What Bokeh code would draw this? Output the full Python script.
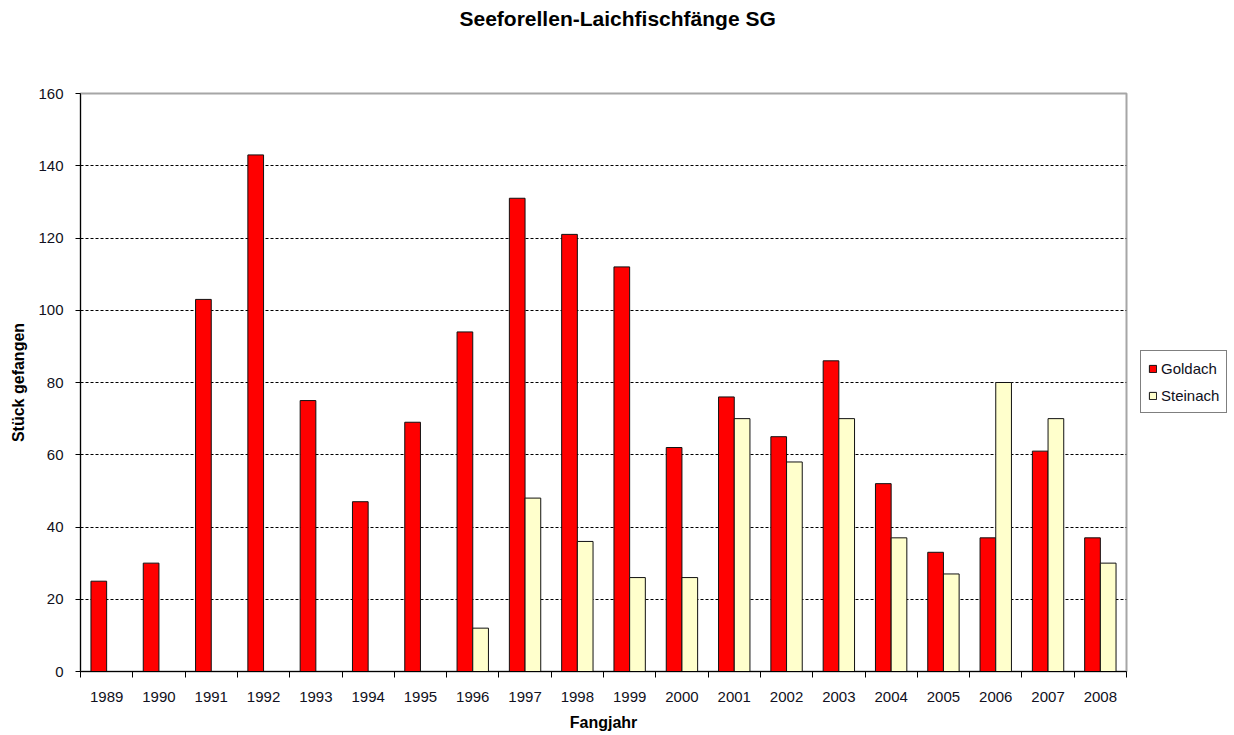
from bokeh.plotting import figure
from bokeh.layouts import row
from bokeh.models import (ColumnDataSource, FixedTicker, Legend, LegendItem, Title, Range1d)
from bokeh.transform import dodge
from bokeh.embed import file_html
from bokeh.resources import INLINE
import numpy as np

years = ["1989", "1990", "1991", "1992", "1993", "1994", "1995", "1996", "1997", "1998",
         "1999", "2000", "2001", "2002", "2003", "2004", "2005", "2006", "2007", "2008"]
goldach = [25, 30, 103, 143, 75, 47, 69, 94, 131, 121, 112, 62, 76, 65, 86, 52, 33, 37, 61, 37]
steinach = [None, None, None, None, None, None, None, 12, 48, 36, 26, 26, 70, 58, 70, 37, 27, 80, 70, 30]
y_ticks = [0, 20, 40, 60, 80, 100, 120, 140, 160]
series_names = ["Goldach", "Steinach"]
series_colors = ["#FF0000", "#FFFFCC"]

n = len(years)
xpos = np.arange(n) + 0.5
src = ColumnDataSource(dict(
    x=xpos,
    g=goldach,
    s=[np.nan if v is None else v for v in steinach],
))

FONT = "Liberation Sans"
TXT = "#101020"
EDGE = "#111111"
BW = 0.3
H = 733

p = figure(width=1128, height=H, output_backend="svg", toolbar_location=None, title=None,
           x_range=Range1d(0, n), y_range=Range1d(0, 160),
           min_border_left=80, min_border_right=2, min_border_top=93, min_border_bottom=62)

# spacer between frame and title, then the title itself (farther out)
p.add_layout(Title(text=" ", text_font=FONT, text_font_size="20px", standoff=40), "above")
p.add_layout(Title(text="Seeforellen-Laichfischfänge  SG", align="left",
                   text_font=FONT, text_font_size="21px", text_font_style="bold",
                   text_color="#000000", offset=379, standoff=0), "above")

p.vbar(x=dodge("x", -BW / 2, range=p.x_range), top="g", width=BW, source=src,
       fill_color=series_colors[0], line_color=EDGE, line_width=1)
p.vbar(x=dodge("x", BW / 2, range=p.x_range), top="s", width=BW, source=src,
       fill_color=series_colors[1], line_color=EDGE, line_width=1)

# axes
xa = p.xaxis[0]
xa.ticker = FixedTicker(ticks=list(xpos), minor_ticks=list(range(n + 1)))
xa.major_label_overrides = {float(x): y for x, y in zip(xpos, years)}
xa.major_tick_line_color = None
xa.minor_tick_line_color = "#000000"
xa.minor_tick_out = 6
xa.minor_tick_in = 0
xa.axis_line_color = "#000000"
xa.major_label_text_font = FONT
xa.major_label_text_font_size = "15px"
xa.major_label_text_color = TXT
xa.major_label_standoff = 14
xa.axis_label = "Fangjahr"
xa.axis_label_text_font = FONT
xa.axis_label_text_font_size = "16px"
xa.axis_label_text_font_style = "bold"
xa.axis_label_text_color = "#000000"
xa.axis_label_standoff = 9

ya = p.yaxis[0]
ya.ticker = FixedTicker(ticks=y_ticks, minor_ticks=[])
ya.major_tick_out = 5
ya.major_tick_in = 0
ya.major_tick_line_color = "#000000"
ya.axis_line_color = "#000000"
ya.major_label_text_font = FONT
ya.major_label_text_font_size = "15px"
ya.major_label_text_color = TXT
ya.major_label_standoff = 12
ya.axis_label = "Stück gefangen"
ya.axis_label_text_font = FONT
ya.axis_label_text_font_size = "16px"
ya.axis_label_text_font_style = "bold"
ya.axis_label_text_color = "#000000"
ya.axis_label_standoff = 8

p.xgrid.grid_line_color = None
p.ygrid.grid_line_color = "#000000"
p.ygrid.grid_line_dash = "3 2"
p.ygrid.grid_line_width = 1

p.outline_line_color = "#A6A6A6"
p.outline_line_width = 2
p.background_fill_color = "white"
p.border_fill_color = "white"

# legend panel on the right (separate small figure)
q = figure(width=104, height=H, output_backend="svg", toolbar_location=None, title=None,
           x_axis_location=None, y_axis_location=None,
           x_range=Range1d(0, 1), y_range=Range1d(0, 1),
           min_border=0)
q.grid.grid_line_color = None
q.outline_line_color = None
q.border_fill_color = "white"
q.background_fill_color = "white"
legend_src = ColumnDataSource(dict(x=[np.nan], top=[np.nan]))
items = []
for name, col in zip(series_names, series_colors):
    r = q.vbar(x="x", top="top", width=0.1, source=legend_src,
               fill_color=col, line_color=EDGE, line_width=1)
    items.append(LegendItem(label=name, renderers=[r], index=0))

legend = Legend(items=items, location=(12, 258), orientation="vertical")
legend.label_text_font = FONT
legend.label_text_font_size = "15px"
legend.label_text_color = TXT
legend.glyph_width = 9
legend.glyph_height = 9
legend.label_standoff = 4
legend.label_height = 20
legend.spacing = 7
legend.padding = 7
legend.margin = 0
legend.border_line_color = "#000000"
legend.border_line_width = 1
legend.background_fill_alpha = 1
q.add_layout(legend, "center")

layout = row(p, q, spacing=0)
open("out.html", "w").write(file_html(layout, INLINE))
